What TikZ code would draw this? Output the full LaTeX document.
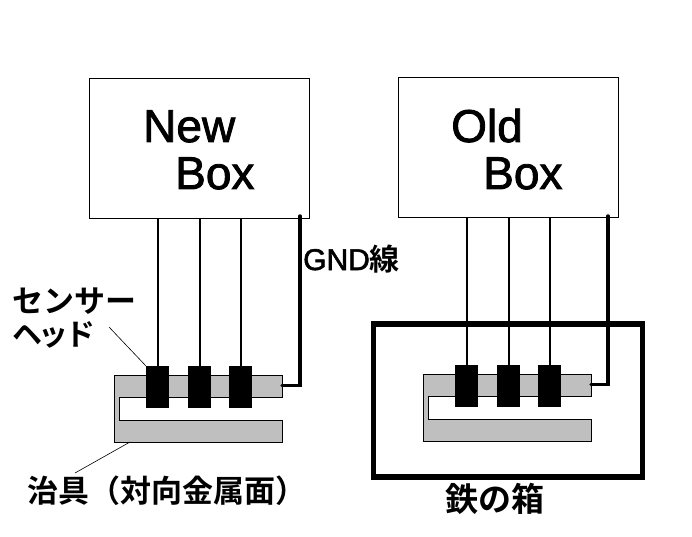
\documentclass[tikz,border=0pt]{standalone}
\usepackage{fontspec}
\setmainfont{Liberation Sans}
\newfontfamily\jpfont{Noto Sans CJK JP}[BoldFont={Noto Sans CJK JP Bold}]
\newfontfamily\boxfont{Liberation Sans}[FakeBold=1.8]
\tikzset{
  boxnode/.style={draw,line width=1pt,minimum width=220pt,minimum height=139pt,inner sep=0pt},
  headnode/.style={fill=black,minimum width=23pt,minimum height=42pt,inner sep=0pt},
  bigtext/.style={anchor=base west,inner sep=0pt,font=\boxfont\fontsize{46}{46}\selectfont},
  jptext/.style={anchor=base west,inner sep=0pt,font=\jpfont\bfseries\fontsize{31}{31}\selectfont},
  jig/.style={draw,fill=black!25,line width=1pt},
  wire/.style={line width=2pt},
  gndwire/.style={line width=3.5pt,line cap=round},
  leader/.style={line width=0.6pt}
}
\begin{document}
\begin{tikzpicture}[x=1pt,y=-1pt]
\useasboundingbox (0,0) rectangle (692,537);

\node[boxnode] (NB) at (199,148.5) {};
\node[boxnode] (OB) at (508,147.5) {};
\node[bigtext] (NBa) at (143,142) {New};
\node[bigtext] (NBb) at (175,189) {Box};
\node[bigtext] (OBa) at (451,142) {Old};
\node[bigtext] (OBb) at (483,189) {Box};

\draw[line width=5.5pt] (373.5,324) rectangle (642.5,477);

\draw[jig] (114.5,375.5) -- (282.5,375.5) -- (282.5,397.5) -- (119.5,397.5) -- (119.5,420.5)
  -- (282.5,420.5) -- (282.5,442.5) -- (114.5,442.5) -- cycle;
\draw[jig] (423.5,374.5) -- (591.5,374.5) -- (591.5,396.5) -- (428.5,396.5) -- (428.5,419.5)
  -- (591.5,419.5) -- (591.5,441.5) -- (423.5,441.5) -- cycle;

\node[headnode] (H1) at (157.5,387) {};
\node[headnode] (H2) at (199.5,387) {};
\node[headnode] (H3) at (240.5,387) {};
\node[headnode] (H4) at (466.5,386) {};
\node[headnode] (H5) at (508.5,386) {};
\node[headnode] (H6) at (549.5,386) {};

\draw[wire] (H1.north) -- (H1.north |- NB.south);
\draw[wire] (H2.north) -- (H2.north |- NB.south);
\draw[wire] (H3.north) -- (H3.north |- NB.south);
\draw[wire] (H4.north) -- (H4.north |- OB.south);
\draw[wire] (H5.north) -- (H5.north |- OB.south);
\draw[wire] (H6.north) -- (H6.north |- OB.south);

\coordinate (NG) at (300,216);
\coordinate (NJ) at (282,385.5);
\coordinate (OG) at (608,216);
\coordinate (OJ) at (591,384.5);
\draw[gndwire] (NG) |- (NJ);
\draw[gndwire] (OG) |- (OJ);

\node[anchor=base west,inner sep=0pt,font=\boxfont\fontsize{30}{30}\selectfont] (GND) at (303,270) {GND{\jpfont\bfseries 線}};

\node[jptext] (SH1) at (12,312) {センサー};
\node[jptext,font=\jpfont\bfseries\addfontfeature{LetterSpace=-12}\fontsize{30}{30}\selectfont] (SH2) at (12,345) {ヘッド};
\node[jptext] (JG) at (27,502) {治具（対向金属面）};
\node[jptext,font=\jpfont\bfseries\fontsize{33}{33}\selectfont] (FE) at (445,511) {鉄の箱};

\coordinate (SHend) at (109,327);
\coordinate (JGend) at (75,473);
\coordinate (JGtop) at (130,442);
\draw[leader] (SHend) -- (H1.north west);
\draw[leader] (JGend) -- (JGtop);
\end{tikzpicture}
\end{document}
